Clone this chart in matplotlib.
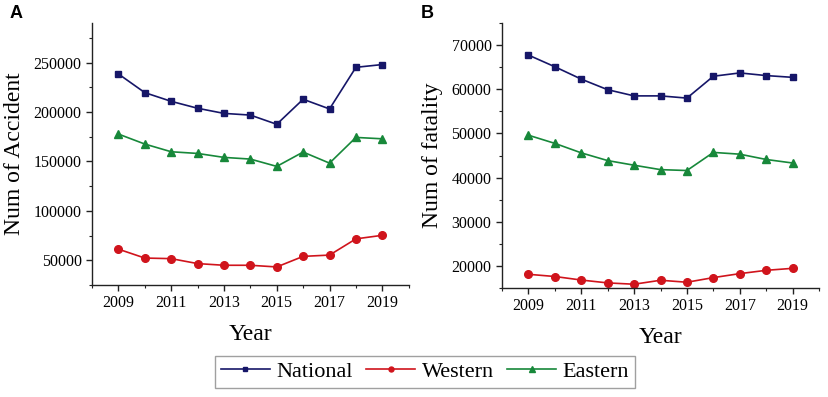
import matplotlib
matplotlib.use("Agg")
import matplotlib.pyplot as plt
from matplotlib.ticker import MultipleLocator

years = list(range(2009, 2020))
acc_national = [238500, 219600, 210800, 203800, 198600, 196900, 187600, 212900, 203100, 245200, 248000]
acc_western = [61300, 52300, 51700, 46700, 45000, 45000, 43300, 54000, 55300, 71700, 75300]
acc_eastern = [177700, 167600, 159800, 158100, 154100, 152400, 145000, 159500, 148300, 174300, 172900]
fat_national = [67750, 65100, 62300, 59900, 58500, 58500, 58000, 62950, 63700, 63100, 62700]
fat_western = [18100, 17600, 16800, 16150, 15850, 16750, 16300, 17350, 18250, 19000, 19450]
fat_eastern = [49600, 47750, 45600, 43850, 42800, 41800, 41600, 45700, 45300, 44100, 43300]
series_names = ["National", "Western", "Eastern"]

c_nat = "#161668"
c_wes = "#d0141c"
c_eas = "#17883a"

plt.rcParams['font.family'] = ['Liberation Serif', 'DejaVu Serif']

fig = plt.figure(figsize=(8.29, 3.97), dpi=100)
axA = fig.add_axes([0.111, 0.282, 0.382, 0.660])
axB = fig.add_axes([0.6055, 0.2746, 0.3825, 0.6674])

def style(ax, ylim, major, ylabel):
    ax.set_xlim(2008, 2020)
    ax.set_ylim(*ylim)
    ax.xaxis.set_minor_locator(MultipleLocator(1))
    ax.set_xticks(range(2009, 2020, 2))
    ax.yaxis.set_major_locator(MultipleLocator(major))
    ax.yaxis.set_minor_locator(MultipleLocator(major / 2))
    for s in ["top", "right"]:
        ax.spines[s].set_visible(False)
    for s in ["left", "bottom"]:
        ax.spines[s].set_linewidth(1.0)
        ax.spines[s].set_color("#222222")
    ax.tick_params(which="major", direction="out", length=4, width=1, labelsize=11.5, colors="#222222", labelcolor="black")
    ax.tick_params(which="minor", direction="out", length=2.5, width=0.8, colors="#222222")
    ax.set_xlabel("Year", fontsize=17, labelpad=9)
    ax.set_ylabel(ylabel, fontsize=17, labelpad=6)

lines = []
for ax, nat, wes, eas in [(axA, acc_national, acc_western, acc_eastern),
                          (axB, fat_national, fat_western, fat_eastern)]:
    l1, = ax.plot(years, nat, color=c_nat, marker="s", markersize=5, lw=1.2, clip_on=False)
    l2, = ax.plot(years, wes, color=c_wes, marker="o", markersize=5.5, lw=1.2, clip_on=False)
    l3, = ax.plot(years, eas, color=c_eas, marker="^", markersize=6, lw=1.2, clip_on=False)
    lines = [l1, l2, l3]

style(axA, (25000, 290000), 50000, "Num of Accident")
style(axB, (15000, 75000), 10000, "Num of fatality")

fig.text(0.012, 0.967, "A", fontsize=13, fontweight="bold", family="Liberation Sans", va="center")
fig.text(0.508, 0.967, "B", fontsize=13, fontweight="bold", family="Liberation Sans", va="center")

leg = fig.legend(lines, series_names, loc="center", bbox_to_anchor=(0.5127, 0.0635),
                 ncol=3, fontsize=16, frameon=True, fancybox=False,
                 handlelength=2.2, handletextpad=0.3, columnspacing=0.6,
                 borderpad=0.25, borderaxespad=0.0, markerscale=0.65)
leg.get_frame().set_edgecolor("#888888")
leg.get_frame().set_linewidth(1.0)

fig.savefig("out.png", dpi=100)
